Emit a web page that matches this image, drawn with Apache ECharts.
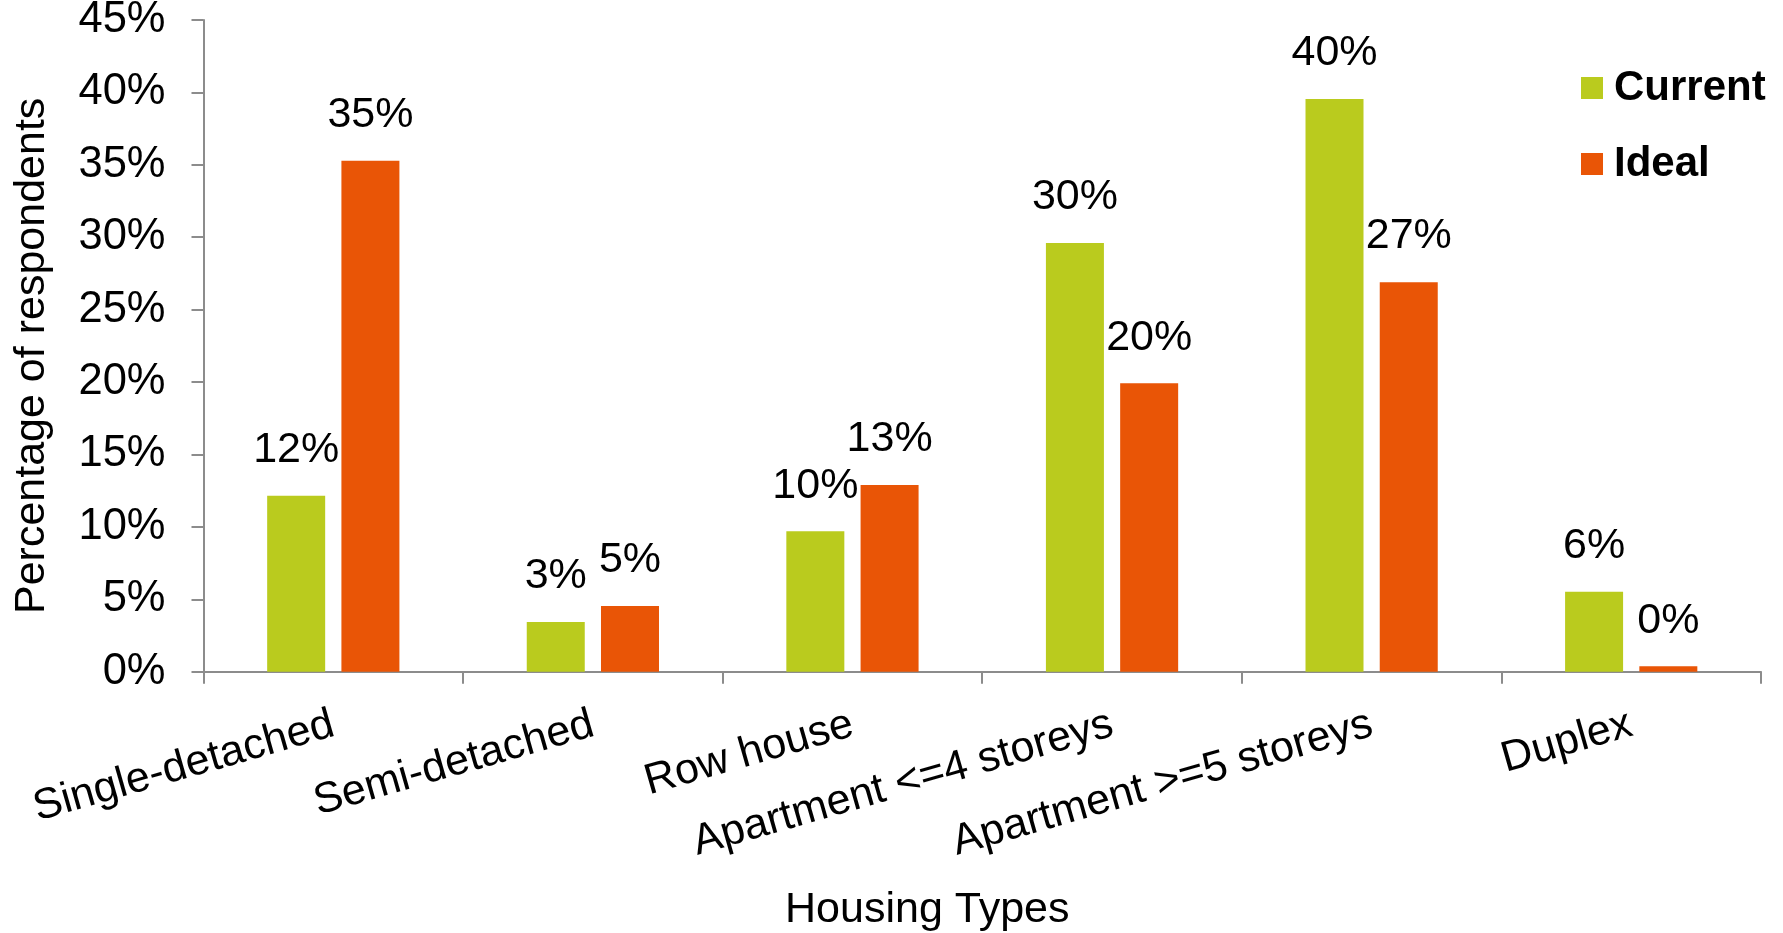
<!DOCTYPE html>
<html>
<head>
<meta charset="utf-8">
<title>Housing Types</title>
<script src="https://cdn.jsdelivr.net/npm/echarts@6/dist/echarts.min.js"></script>
<style>
  html, body { margin: 0; padding: 0; background: #ffffff; }
  #chart { width: 1783px; height: 933px; }
</style>
</head>
<body>
<div id="chart"></div>
<script>
// Housing type survey: share of respondents (%)
const categories = ['Single-detached', 'Semi-detached', 'Row house', 'Apartment <=4 storeys', 'Apartment >=5 storeys', 'Duplex'];
const currentValues = [12.15, 3.43, 9.7, 29.6, 39.55, 5.52];
const idealValues = [35.28, 4.54, 12.9, 19.92, 26.9, 0.37];
const yTicks = { min: 0, max: 45, step: 5 };

const FONT = "'Liberation Sans', Arial, Helvetica, sans-serif";
const AXIS_COLOR = '#8c8c8c';
const GREEN = '#bacb1e';
const ORANGE = '#e95506';

const pct = v => Math.round(v) + '%';

const valueLabel = {
  show: true,
  position: 'top',
  distance: 24,
  color: '#000',
  fontFamily: FONT,
  fontSize: 43,
  formatter: p => pct(p.value)
};

const chart = echarts.init(document.getElementById('chart'), null, { renderer: 'canvas' });

chart.setOption({
  backgroundColor: '#ffffff',
  animation: false,
  textStyle: { fontFamily: FONT },
  grid: { left: 203.5, right: 22, top: 20, bottom: 261.3, containLabel: false, outerBoundsMode: 'none' },
  legend: {
    orient: 'vertical',
    left: 1576,
    top: 62,
    itemWidth: 22,
    itemHeight: 22,
    itemGap: 34,
    icon: 'rect',
    textStyle: { fontFamily: FONT, fontSize: 42, fontWeight: 'bold', color: '#000', padding: [0, 0, 0, 6] },
    data: ['Current', 'Ideal']
  },
  xAxis: {
    type: 'category',
    data: categories,
    name: 'Housing Types',
    nameLocation: 'middle',
    nameGap: 217,
    nameTextStyle: { fontFamily: FONT, fontSize: 43, color: '#000', padding: [0, 110, 0, 0] },
    axisLine: { lineStyle: { color: AXIS_COLOR, width: 2 } },
    axisTick: { show: true, length: 12, lineStyle: { color: AXIS_COLOR, width: 2 } },
    axisLabel: { rotate: 16, margin: 52, fontFamily: FONT, fontSize: 43, color: '#000', interval: 0 }
  },
  yAxis: {
    type: 'value',
    min: yTicks.min,
    max: yTicks.max,
    interval: yTicks.step,
    name: 'Percentage of respondents',
    nameLocation: 'middle',
    nameGap: 150,
    nameTextStyle: { fontFamily: FONT, fontSize: 43, color: '#000', padding: [0, 20, 0, 0] },
    splitLine: { show: false },
    axisLine: { show: true, lineStyle: { color: AXIS_COLOR, width: 2 } },
    axisTick: { show: true, length: 12, lineStyle: { color: AXIS_COLOR, width: 2 } },
    axisLabel: { margin: 38, fontFamily: FONT, fontSize: 43.5, color: '#000', formatter: '{value}%' }
  },
  series: [
    {
      name: 'Current',
      type: 'bar',
      data: currentValues,
      barWidth: 58,
      barGap: '28%',
      itemStyle: { color: GREEN },
      label: valueLabel
    },
    {
      name: 'Ideal',
      type: 'bar',
      data: idealValues,
      barWidth: 58,
      barGap: '28%',
      itemStyle: { color: ORANGE },
      label: valueLabel
    }
  ]
});
</script>
</body>
</html>
